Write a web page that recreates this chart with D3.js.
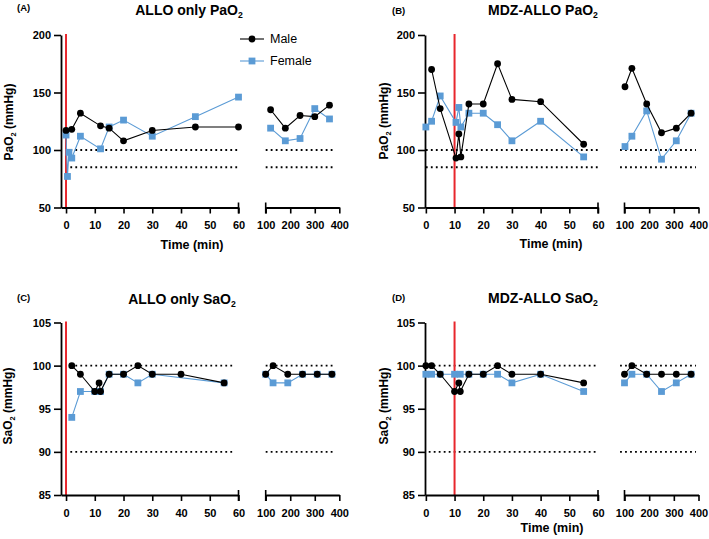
<!DOCTYPE html>
<html>
<head>
<meta charset="utf-8">
<title>PaO2 / SaO2</title>
<script src="https://cdn.jsdelivr.net/npm/d3@7"></script>
<style>
  body { margin: 0; background: #fff; }
  text { font-family: "Liberation Sans", Arial, sans-serif; }
</style>
</head>
<body>
<svg></svg>
<script>
const width = 709;
const height = 539;

// [time (min), value]  -- times > 60 go on the right-hand axis segment
const alloPaMale = [[0, 117], [2, 118], [5, 132], [12, 121], [15, 119], [20, 108], [30, 117], [45, 120], [60, 120],
  [120, 135], [180, 119], [240, 130], [300, 129], [360, 139]];
const alloPaFemale = [[0, 113], [0.5, 77], [1, 98], [2, 93], [5, 112], [12, 101], [15, 120], [20, 126], [30, 112], [45, 129], [60, 146],
  [120, 119], [180, 108], [240, 110], [300, 136], [360, 127]];

const mdzPaMale = [[2, 170], [5, 136], [10.5, 93], [11.5, 114], [12.2, 94], [15, 140], [20, 140], [25, 175], [30, 144], [40, 142], [55, 105],
  [102, 155], [130, 171], [190, 140], [250, 115], [310, 119], [370, 132]];
const mdzPaFemale = [[0, 120], [2, 125], [5, 147], [10.5, 124], [11.5, 137], [12.2, 120], [15, 132], [20, 132], [25, 122], [30, 108], [40, 125], [55, 94],
  [102, 103], [130, 112], [190, 134], [250, 92], [310, 108], [370, 132]];

const alloSaMale = [[2, 100], [5, 99], [10, 97], [11.5, 98], [12, 97], [15, 99], [20, 99], [25, 100], [30, 99], [40, 99], [55, 98],
  [100, 99], [130, 100], [190, 99], [250, 99], [310, 99], [370, 99]];
const alloSaFemale = [[2, 94], [5, 97], [10, 97], [11.5, 97], [12, 97], [15, 99], [20, 99], [25, 98], [30, 99], [55, 98],
  [100, 99], [130, 98], [190, 98], [250, 99], [310, 99], [370, 99]];

const mdzSaMale = [[0, 100], [2, 100], [5, 99], [10, 97], [11.5, 98], [12, 97], [15, 99], [20, 99], [25, 100], [30, 99], [40, 99], [55, 98],
  [100, 99], [130, 100], [190, 99], [250, 99], [310, 99], [370, 99]];
const mdzSaFemale = [[0, 99], [2, 99], [5, 99], [10, 99], [12, 99], [15, 99], [20, 99], [25, 99], [30, 98], [40, 99], [55, 97],
  [100, 98], [130, 99], [190, 99], [250, 97], [310, 98], [370, 99]];

const paTicks = [50, 100, 150, 200];
const saTicks = [85, 90, 95, 100, 105];
const earlyTicks = [0, 10, 20, 30, 40, 50, 60];
const lateTicks = [100, 200, 300, 400];
const paRefs = [100, 85];
const saRefs = [100, 90];

const maleColor = "#000";
const femaleColor = "#5b9bd5";
const redColor = "#e8262c";

const svg = d3.select("svg").attr("width", width).attr("height", height);

const panels = [
  { letter: "(A)", letterPos: [17, 10.5], title: "ALLO only Pa", titlePos: [189, 15],
    ylab: "Pa", ylabPos: [13, 122], xlab: true, xlabPos: [192, 249],
    gx: 61, gy: 35, yDomain: [50, 200], yTicks: paTicks, refs: paRefs,
    early: [-1.75, 60], earlyRange: [0, 177.5], lateRange: [204.7, 278.3],
    refEarly: [1.5, 60], refLate: [100, 380], red: 0,
    male: alloPaMale, female: alloPaFemale, legend: true },
  { letter: "(B)", letterPos: [392, 13.5], title: "MDZ-ALLO Pa", titlePos: [543, 15],
    ylab: "Pa", ylabPos: [388, 121], xlab: true, xlabPos: [551, 248],
    gx: 425, gy: 35, yDomain: [50, 200], yTicks: paTicks, refs: paRefs,
    early: [-0.3, 60], earlyRange: [0, 173], lateRange: [199.5, 273.5],
    refEarly: [0, 60], refLate: [82, 390], red: 10,
    male: mdzPaMale, female: mdzPaFemale },
  { letter: "(C)", letterPos: [17, 301], title: "ALLO only Sa", titlePos: [182, 304],
    ylab: "Sa", ylabPos: [12, 406], xlab: false,
    gx: 61, gy: 322.5, yDomain: [85, 105], yTicks: saTicks, refs: saRefs,
    early: [-1.75, 60], earlyRange: [0, 177.5], lateRange: [204.7, 278.3],
    refEarly: [1.5, 58], refLate: [100, 380], red: 0,
    male: alloSaMale, female: alloSaFemale },
  { letter: "(D)", letterPos: [392, 301], title: "MDZ-ALLO Sa", titlePos: [543, 303],
    ylab: "Sa", ylabPos: [388, 406], xlab: true, xlabPos: [552, 532],
    gx: 425, gy: 322.5, yDomain: [85, 105], yTicks: saTicks, refs: saRefs,
    early: [-0.3, 60], earlyRange: [0, 173], lateRange: [199.5, 273.5],
    refEarly: [1, 60], refLate: [82, 390], red: 10,
    male: mdzSaMale, female: mdzSaFemale }
];

const plotH = 172.5;

function subText(sel, pre, after, size) {
  sel.append("tspan").text(pre + "O");
  sel.append("tspan").attr("font-size", size * 0.62).attr("dy", size * 0.22).text("2");
  if (after) sel.append("tspan").attr("dy", -size * 0.22).text(after);
}

panels.forEach(p => {
  // headings
  svg.append("text")
    .attr("x", p.letterPos[0]).attr("y", p.letterPos[1])
    .attr("font-size", 9.5).attr("font-weight", "bold")
    .text(p.letter);

  subText(svg.append("text")
    .attr("x", p.titlePos[0]).attr("y", p.titlePos[1])
    .attr("text-anchor", "middle")
    .attr("font-size", 14).attr("font-weight", "bold"), p.title, null, 14);

  subText(svg.append("text")
    .attr("transform", "translate(" + p.ylabPos[0] + "," + p.ylabPos[1] + ") rotate(-90)")
    .attr("text-anchor", "middle")
    .attr("font-size", 12).attr("font-weight", "bold"), p.ylab, " (mmHg)", 12);

  if (p.xlab) {
    svg.append("text")
      .attr("x", p.xlabPos[0]).attr("y", p.xlabPos[1])
      .attr("text-anchor", "middle")
      .attr("font-size", 12.5).attr("font-weight", "bold")
      .text("Time (min)");
  }

  let g = svg.append("g")
    .attr("transform", "translate(" + p.gx + "," + p.gy + ")");

  let y = d3.scaleLinear().domain(p.yDomain).range([plotH, 0]);
  let xe = d3.scaleLinear().domain(p.early).range(p.earlyRange);
  let xl = d3.scaleLinear().domain([100, 400]).range(p.lateRange);

  // dotted reference lines
  p.refs.forEach(r => {
    [[xe, p.refEarly], [xl, p.refLate]].forEach(([sc, ext]) => {
      g.append("line")
        .attr("x1", sc(ext[0])).attr("x2", sc(ext[1]))
        .attr("y1", y(r)).attr("y2", y(r))
        .attr("stroke", "#000").attr("stroke-width", 1.8)
        .attr("stroke-dasharray", "1.8,3.2");
    });
  });

  // red marker line
  g.append("line")
    .attr("x1", xe(p.red)).attr("x2", xe(p.red))
    .attr("y1", -1).attr("y2", plotH)
    .attr("stroke", redColor).attr("stroke-width", 2);

  // axes
  let yAxis = d3.axisLeft(y).tickValues(p.yTicks).tickSize(7).tickPadding(3).tickSizeOuter(0);
  let ya = g.append("g").call(yAxis);

  let xaE = g.append("g").attr("transform", "translate(0," + plotH + ")")
    .call(d3.axisBottom(xe).tickValues(earlyTicks).tickSize(6).tickPadding(8).tickSizeOuter(0));
  let xaL = g.append("g").attr("transform", "translate(0," + plotH + ")")
    .call(d3.axisBottom(xl).tickValues(lateTicks).tickSize(6).tickPadding(8).tickSizeOuter(0));

  [ya, xaE, xaL].forEach(a => {
    a.select(".domain").attr("stroke-width", 1.8);
    a.selectAll(".tick line").attr("stroke-width", 1.6);
    a.selectAll(".tick text")
      .attr("font-size", 11).attr("font-weight", "bold")
      .attr("font-family", "Liberation Sans, Arial, sans-serif")
      .attr("fill", "#000");
  });

  // break caps
  [xe(60), xl(100)].forEach(cx => {
    g.append("line")
      .attr("x1", cx).attr("x2", cx)
      .attr("y1", plotH - 5).attr("y2", plotH + 6)
      .attr("stroke", "#000").attr("stroke-width", 1.6);
  });

  // series
  const series = [
    { data: p.female, color: femaleColor, shape: "square" },
    { data: p.male, color: maleColor, shape: "circle" }
  ];

  series.forEach(s => {
    let early = s.data.filter(d => d[0] <= 60);
    let late = s.data.filter(d => d[0] > 60);
    let lineE = d3.line().x(d => xe(d[0])).y(d => y(d[1]));
    let lineL = d3.line().x(d => xl(d[0])).y(d => y(d[1]));
    g.append("path").attr("d", lineE(early))
      .attr("fill", "none").attr("stroke", s.color).attr("stroke-width", 1.1);
    g.append("path").attr("d", lineL(late))
      .attr("fill", "none").attr("stroke", s.color).attr("stroke-width", 1.1);

    let pts = early.map(d => [xe(d[0]), y(d[1])]).concat(late.map(d => [xl(d[0]), y(d[1])]));
    if (s.shape === "circle") {
      g.selectAll(null).data(pts).enter().append("circle")
        .attr("cx", d => d[0]).attr("cy", d => d[1]).attr("r", 3.4)
        .attr("fill", s.color);
    } else {
      g.selectAll(null).data(pts).enter().append("rect")
        .attr("x", d => d[0] - 3.4).attr("y", d => d[1] - 3.4)
        .attr("width", 6.8).attr("height", 6.8)
        .attr("fill", s.color);
    }
  });

  if (p.legend) {
    const items = [
      { name: "Male", color: maleColor, shape: "circle", yy: 39 },
      { name: "Female", color: femaleColor, shape: "square", yy: 61 }
    ];
    items.forEach(it => {
      svg.append("line")
        .attr("x1", 240).attr("x2", 264).attr("y1", it.yy).attr("y2", it.yy)
        .attr("stroke", it.color).attr("stroke-width", 1.1);
      if (it.shape === "circle") {
        svg.append("circle").attr("cx", 252).attr("cy", it.yy).attr("r", 3.4).attr("fill", it.color);
      } else {
        svg.append("rect").attr("x", 248.6).attr("y", it.yy - 3.4)
          .attr("width", 6.8).attr("height", 6.8).attr("fill", it.color);
      }
      svg.append("text")
        .attr("x", 270).attr("y", it.yy + 4.3)
        .attr("font-size", 12.5)
        .text(it.name);
    });
  }
});
</script>
</body>
</html>
